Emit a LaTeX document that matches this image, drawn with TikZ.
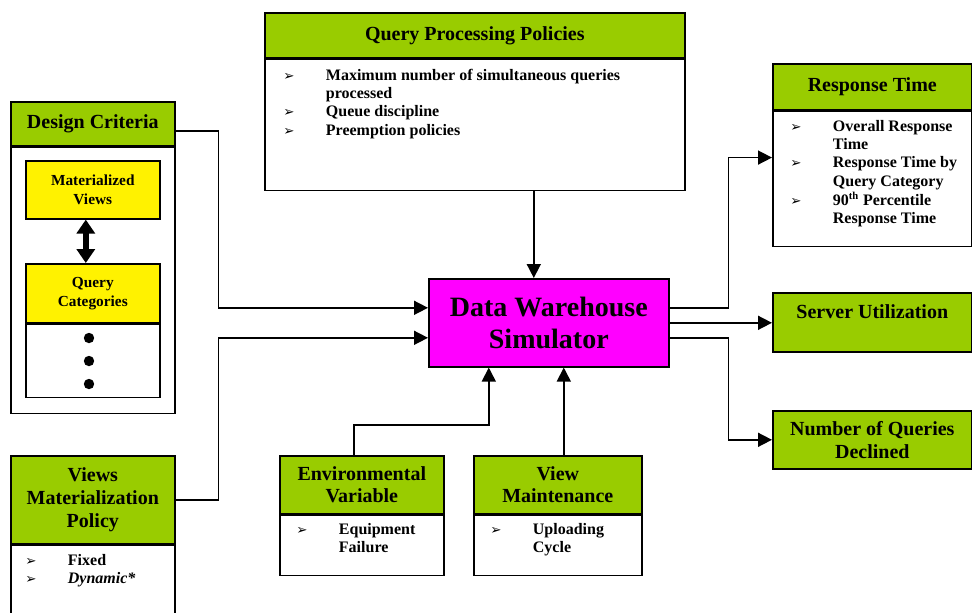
\documentclass[tikz,border=0pt]{standalone}
\usepackage{fontspec}
\setmainfont{Liberation Serif}
\newfontfamily\dingfont{DejaVu Sans}
\usetikzlibrary{arrows.meta}

\definecolor{hdrgreen}{RGB}{153,204,0}
\definecolor{simmagenta}{RGB}{255,0,255}

\newcommand{\arrowbul}{{\dingfont\fontsize{10}{10}\selectfont ➢}}
\newcommand{\bulletlist}[1]{\begin{tabular}{@{}p{32pt}@{}l@{}}#1\end{tabular}}

\begin{document}
\begin{tikzpicture}[
        x=0.75pt, y=-0.75pt,
        hdr/.style={draw, line width=1.2pt, fill=hdrgreen, anchor=north west, align=center,
            inner sep=0pt, font=\fontsize{15}{17}\selectfont\bfseries},
        bodybox/.style={draw, line width=1.2pt, fill=white, anchor=north west, inner sep=0pt},
        inbox/.style={draw, line width=1.2pt, fill=yellow, anchor=north west, align=center,
            inner sep=0pt, font=\fontsize{11.5}{14}\selectfont\bfseries},
        blist/.style={anchor=north west, inner sep=0pt, font=\fontsize{12}{13.8}\selectfont\bfseries},
        conn/.style={line width=1.2pt, -{Triangle[length=10.5pt,width=10.5pt]}},
    ]
    \useasboundingbox (0,0) rectangle (972,612);

    \node[hdr, minimum width=315pt, minimum height=33.75pt] (qphdr) at (264,12) {Query Processing Policies};
    \node[bodybox, minimum width=315pt, minimum height=98.25pt] (qpbody) at (qphdr.south west) {};
    \node[blist] (qplist) at (283,67) {\bulletlist{
        \arrowbul & Maximum number of simultaneous queries\\
                  & processed\\
        \arrowbul & Queue discipline\\
        \arrowbul & Preemption policies}};

    \node[hdr, minimum width=123pt, minimum height=33pt] (dchdr) at (10,101) {Design Criteria};
    \node[bodybox, minimum width=123pt, minimum height=199.5pt] (dcbody) at (dchdr.south west) {};
    \node[inbox, minimum width=100.5pt, minimum height=43.5pt] (mv) at (25,160) {Materialized\\Views};
    \node[inbox, minimum width=100.5pt, minimum height=44.25pt] (qc) at (25,263) {Query\\Categories};
    \node[bodybox, minimum width=100.5pt, minimum height=54.75pt] (more) at (qc.south west) {};
    \foreach \y in {338,361,384}
        \fill (89,\y) circle (3.9pt);
    \draw[line width=4.5pt, {Triangle[length=10.5pt,width=13.5pt]}-{Triangle[length=10.5pt,width=13.5pt]}]
        ([xshift=-5.25pt]mv.south) -- ([xshift=-5.25pt]qc.north);

    \node[hdr, minimum width=123pt, minimum height=66pt] (vphdr) at (10,455) {Views\\Materialization\\Policy};
    \node[bodybox, minimum width=123pt, minimum height=54pt] (vpbody) at (vphdr.south west) {};
    \node[blist] (vplist) at (25,552) {\bulletlist{
        \arrowbul & Fixed\\
        \arrowbul & \textit{Dynamic*}}};

    \node[hdr, minimum width=123pt, minimum height=43.5pt] (evhdr) at (279,455) {Environmental\\Variable};
    \node[bodybox, minimum width=123pt, minimum height=45pt] (evbody) at (evhdr.south west) {};
    \node[blist] (evlist) at (296,521) {\bulletlist{
        \arrowbul & Equipment\\
                  & Failure}};

    \node[hdr, minimum width=126pt, minimum height=43.5pt] (vmhdr) at (473,455) {View\\Maintenance};
    \node[bodybox, minimum width=126pt, minimum height=45pt] (vmbody) at (vmhdr.south west) {};
    \node[blist] (vmlist) at (490,521) {\bulletlist{
        \arrowbul & Uploading\\
                  & Cycle}};

    \node[draw, line width=1.2pt, fill=simmagenta, anchor=north west, minimum width=180pt,
        minimum height=66pt, align=center, inner sep=0pt,
        font=\fontsize{21}{24.5}\selectfont\bfseries] (sim) at (428,278) {Data Warehouse\\Simulator};

    \node[hdr, minimum width=149.25pt, minimum height=34.5pt] (rthdr) at (772,63) {Response Time};
    \node[bodybox, minimum width=149.25pt, minimum height=101.25pt] (rtbody) at (rthdr.south west) {};
    \node[blist] (rtlist) at (790,118) {\bulletlist{
        \arrowbul & Overall Response\\
                  & Time\\
        \arrowbul & Response Time by\\
                  & Query Category\\
        \arrowbul & 90\textsuperscript{th} Percentile\\
                  & Response Time}};

    \node[hdr, minimum width=149.25pt, minimum height=44.25pt] (srv) at (772,292) {};
    \node[anchor=north, inner sep=0pt, font=\fontsize{15}{17}\selectfont\bfseries] (srvlbl)
        at ([yshift=-9pt]srv.north) {Server Utilization};
    \node[hdr, minimum width=149.25pt, minimum height=43.5pt] (nqd) at (772,410) {Number of Queries\\Declined};

    \draw[conn] ([yshift=-5.25pt]dchdr.east) -- ++(43,0) |- ([yshift=11.25pt]sim.west);
    \draw[conn] (vphdr.east) -- ++(43,0) |- ([yshift=-11.25pt]sim.west);
    \draw[conn] ([xshift=-11.25pt]sim.north |- qpbody.south) -- ([xshift=-11.25pt]sim.north);
    \draw[conn] ([xshift=-6pt]evhdr.north) -- ++(0,-30) -| ([xshift=-45pt]sim.south);
    \draw[conn] ([xshift=4.5pt]vmhdr.north) -- ([xshift=4.5pt]vmhdr.north |- sim.south);
    \draw[conn] ([yshift=11.25pt]sim.east) -- ++(59,0) |- ([yshift=16pt]rtbody.west);
    \draw[conn] (sim.east) -- (sim.east -| srv.west);
    \draw[conn] ([yshift=-11.25pt]sim.east) -- ++(59,0) |- (nqd.west);
\end{tikzpicture}
\end{document}
